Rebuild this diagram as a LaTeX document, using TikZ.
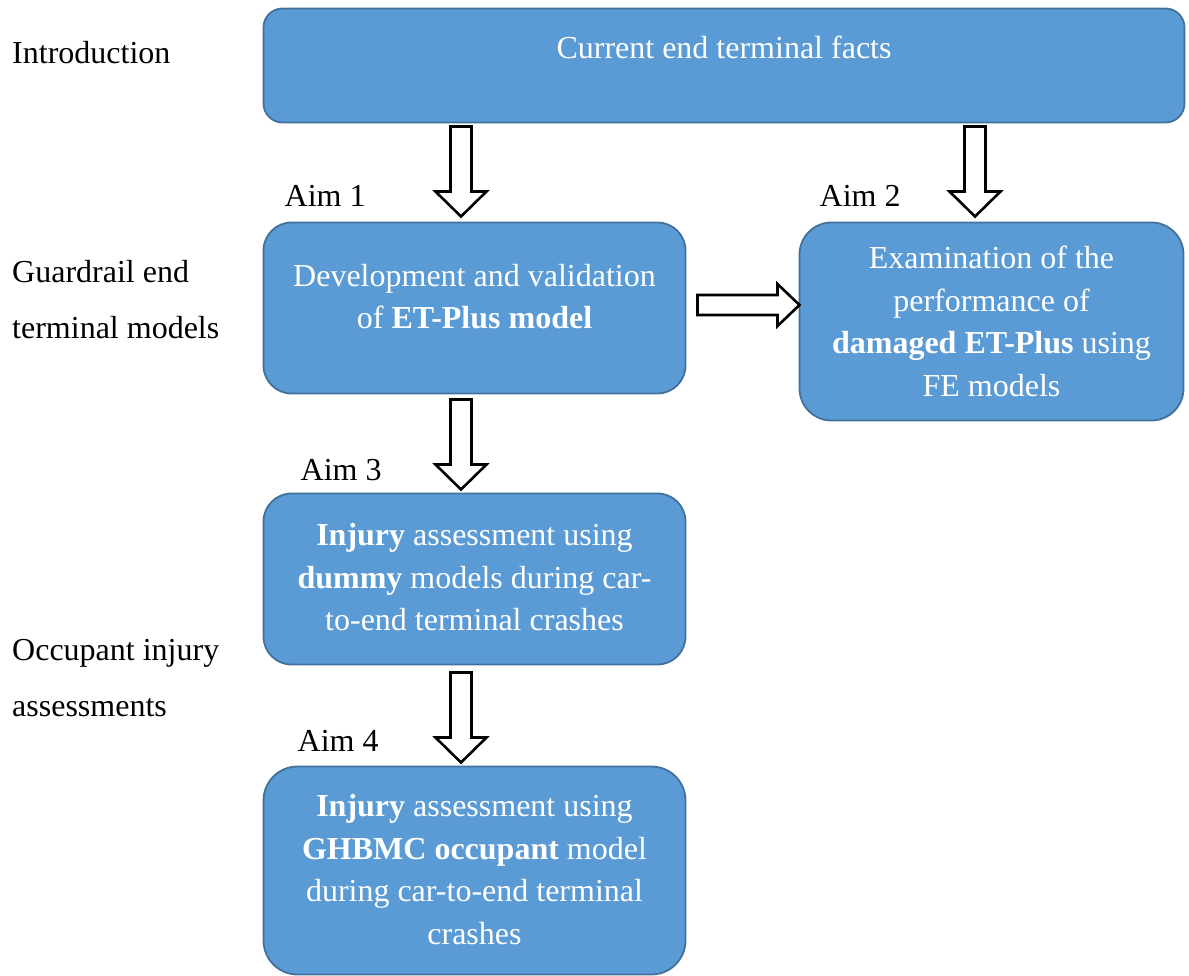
\documentclass[tikz,border=0pt]{standalone}
\usepackage{fontspec}
\setmainfont{Liberation Serif}
\usetikzlibrary{positioning, calc}
\definecolor{boxblue}{HTML}{5B9BD5}
\definecolor{boxedge}{HTML}{41719C}

\tikzset{
  blkarrow/.style={draw=black, fill=white, line width=2.6pt, line join=miter},
  pics/blkdown/.style={code={
    \draw[blkarrow] (-10.5,0) -- (-10.5,65) -- (-25.5,65) -- (0,90) -- (25.5,65) -- (10.5,65) -- (10.5,0) -- cycle;
  }},
  pics/blkright/.style={code={
    \draw[blkarrow] (0,-10) -- (80,-10) -- (80,-21) -- (102,0) -- (80,21) -- (80,10) -- (0,10) -- cycle;
  }},
}

\begin{document}
\begin{tikzpicture}[
  x=1pt, y=-1pt,
  box/.style={rectangle, draw=boxedge, line width=1.8pt, fill=boxblue,
    rounded corners=#1, text=white, align=center, inner sep=0pt, outer sep=0pt,
    font=\fontsize{32}{42.5}\selectfont},
  sidelabel/.style={anchor=west, align=left, inner sep=0pt,
    font=\fontsize{32}{56}\selectfont},
  aimlabel/.style={anchor=west, inner sep=0pt, font=\fontsize{32}{40}\selectfont},
]
  \useasboundingbox (0,0) rectangle (1189,976);

  % boxes
  \node[box=19pt, minimum width=921pt, minimum height=114pt, text depth=37pt,
    anchor=north west] (facts) at (263.5,8.5) {Current end terminal facts};
  \node[box=28pt, minimum width=422pt, minimum height=171pt, text depth=23.5pt,
    below=100pt of facts.south west, anchor=north west] (aim1)
    {Development and validation\\ of \textbf{ET-Plus model}};
  \node[box=32pt, minimum width=384pt, minimum height=198pt,
    right=114pt of aim1.north east, anchor=north west] (aim2)
    {Examination of the\\ performance of\\ \textbf{damaged ET-Plus} using\\ FE models};
  \node[box=28pt, minimum width=422pt, minimum height=171pt, text depth=4pt,
    below=100pt of aim1.south] (aim3)
    {\textbf{Injury} assessment using\\ \textbf{dummy} models during car-\\ to-end terminal crashes};
  \node[box=34pt, minimum width=422pt, minimum height=208pt, text depth=2pt,
    below=102pt of aim3.south] (aim4)
    {\textbf{Injury} assessment using\\ \textbf{GHBMC occupant} model\\ during car-to-end terminal\\ crashes};

  % aim labels
  \node[aimlabel] (lbl1) at ($(aim1.north west)+(21,-27)$) {Aim 1};
  \node[aimlabel] (lbl2) at ($(aim2.north west)+(20,-27)$) {Aim 2};
  \node[aimlabel] (lbl3) at ($(aim3.north west)+(37,-23)$) {Aim 3};
  \node[aimlabel] (lbl4) at ($(aim4.north west)+(34,-26)$) {Aim 4};

  % stages on the left
  \node[sidelabel] (intro) at (12,53) {Introduction};
  \node[sidelabel] (models) at (12,300) {Guardrail end\\ terminal models};
  \node[sidelabel] (injury) at (12,678) {Occupant injury\\ assessments};

  % block arrows
  \pic at ($(aim1.north |- facts.south)+(-13.5,4)$) {blkdown};
  \pic at ($(aim2.north |- facts.south)+(-16.5,4)$) {blkdown};
  \pic at ($(aim1.south)+(-13.5,6)$) {blkdown};
  \pic at ($(aim3.south)+(-13.5,8)$) {blkdown};
  \pic at ($(aim1.east)+(12,-3)$) {blkright};
\end{tikzpicture}
\end{document}
